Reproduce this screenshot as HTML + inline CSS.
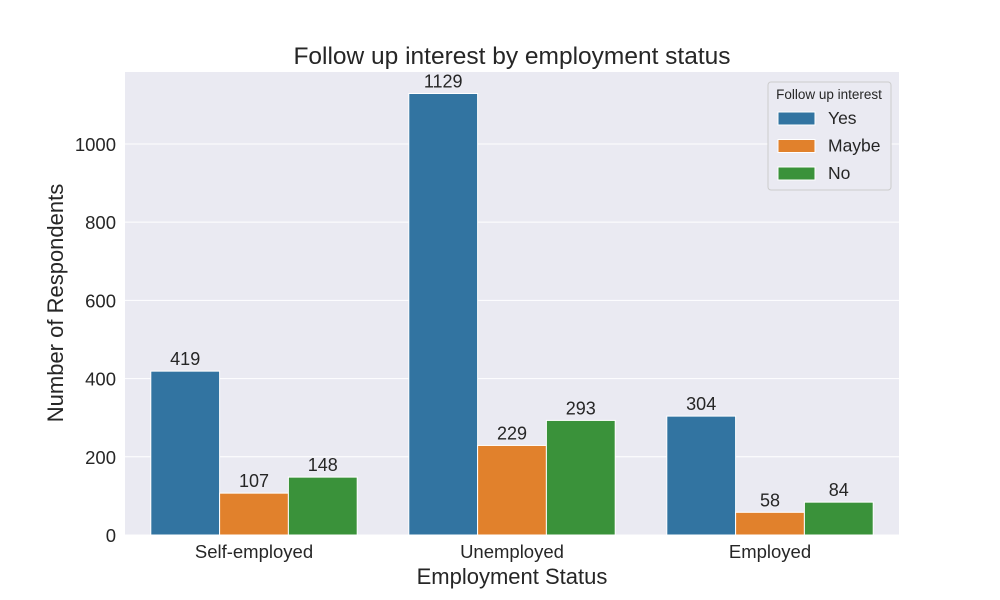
<!DOCTYPE html>
<html><head><meta charset="utf-8"><style>body{margin:0;background:#fff}svg{display:block;font-family:"Liberation Sans",Arial,sans-serif}</style></head>
<body>
<svg id="chart" width="1000" height="600"></svg>
<script>
const categories = ["Self-employed", "Unemployed", "Employed"];
const seriesNames = ["Yes", "Maybe", "No"];
const yesValues = [419, 1129, 304];
const maybeValues = [107, 229, 58];
const noValues = [148, 293, 84];
const yTicks = [0, 200, 400, 600, 800, 1000];

const colors = ["#3274a1", "#e1812c", "#3a923a"];
const series = [yesValues, maybeValues, noValues];
const L = 125, R = 899, T = 72, B = 535, yMax = 1184;
const NS = "http://www.w3.org/2000/svg";
const svg = document.getElementById("chart");
function y(v){ return B - v / yMax * (B - T); }
const band = (R - L) / categories.length;
function xc(i){ return L + band * (i + 0.5); }
function mk(tag, attrs, parent){ const e = document.createElementNS(NS, tag); for (const k in attrs) e.setAttribute(k, attrs[k]); (parent||svg).appendChild(e); return e; }
function txt(s, attrs, parent){ const e = mk("text", attrs, parent); e.textContent = s; return e; }

const bg = mk("rect", {x:L, y:T, width:R-L, height:B-T, fill:"#eaeaf2"});



yTicks.forEach(t => {
  const g = mk("line", {x1:L, x2:R, y1:y(t), y2:y(t), stroke:"#fff", "stroke-width":1});
  
  
  const lb = txt(String(t), {x:L-9, y:y(t)+7, "text-anchor":"end", "font-size":18.5, fill:"#262626"});
  
  
});

const bw = band * 0.8 / 3;
categories.forEach((c, i) => {
  series.forEach((vals, s) => {
    const x0 = xc(i) - band * 0.4 + s * bw;
    const r = mk("rect", {x:x0, y:y(vals[i]), width:bw, height:B - y(vals[i]), fill:colors[s], stroke:"#fff", "stroke-width":1});
    
    
    const v = txt(String(vals[i]), {x:x0 + bw/2, y:y(vals[i]) - 6, "text-anchor":"middle", "font-size":18, fill:"#262626"});
    
    
  });
  const xl = txt(c, {x:xc(i), y:558, "text-anchor":"middle", "font-size":18.5, fill:"#262626"});
  
  
});

const title = txt("Follow up interest by employment status", {x:512, y:64, "text-anchor":"middle", "font-size":24.5, fill:"#262626"});


const xt = txt("Employment Status", {x:512, y:584, "text-anchor":"middle", "font-size":22, fill:"#262626"});


const yt = txt("Number of Respondents", {x:0, y:0, "text-anchor":"middle", "font-size":22, fill:"#262626", transform:"translate(63,303) rotate(-90)"});



const lg = mk("g", {});


mk("rect", {x:768, y:82, width:123, height:108, rx:3, fill:"#eaeaf2", stroke:"#cccccc", "stroke-width":1}, lg);
const lt = txt("Follow up interest", {x:829, y:99, "text-anchor":"middle", "font-size":13.5, fill:"#262626"}, lg);


seriesNames.forEach((n, s) => {
  const yy = 118 + s * 27.5;
  const e = mk("g", {}, lg);
  
  
  mk("rect", {x:778, y:yy-6, width:37, height:13, fill:colors[s], stroke:"#fff", "stroke-width":1}, e);
  txt(n, {x:828, y:yy+6, "font-size":17.5, fill:"#262626"}, e);
});
</script>
</body></html>
